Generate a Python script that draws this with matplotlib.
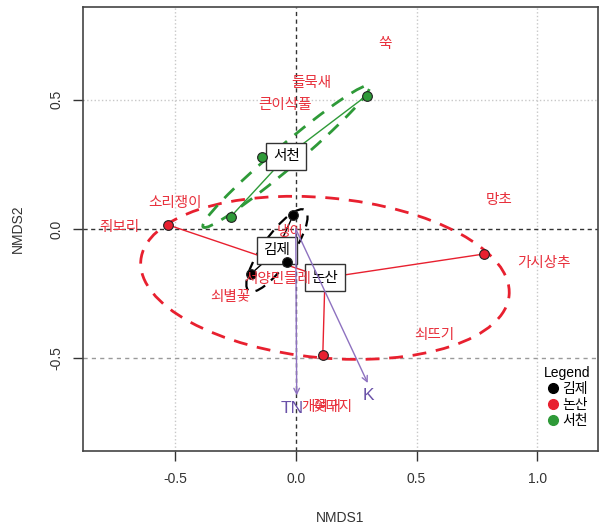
import numpy as np
import matplotlib
matplotlib.use("Agg")
import matplotlib.pyplot as plt
from matplotlib.patches import Ellipse

plt.rcParams["font.family"] = ["Liberation Sans", "Noto Sans CJK KR"]

# NMDS site scores per region
gimje_x = [-0.010, -0.037, -0.186]
gimje_y = [0.054, -0.130, -0.175]
nonsan_x = [-0.530, 0.781, 0.112]
nonsan_y = [0.016, -0.097, -0.488]
seocheon_x = [-0.140, 0.293, -0.269]
seocheon_y = [0.279, 0.516, 0.047]

groups = ["김제", "논산", "서천"]
group_colors = ["black", "#E8202F", "#2E9A38"]

# ordiellipse shape per region: full width, full height, angle (deg)
ell_width = [0.39, 1.53, 0.88]
ell_height = [0.12, 0.62, 0.09]
ell_angle = [53, -5, 38.4]

# species scores
species = ["쑥", "들묵새", "큰이삭풀", "소리쟁이", "쥐보리", "망초", "냉이",
           "가시상추", "서양민들레", "쇠별꽃", "쇠뜨기", "개여뀌", "꽃다지"]
species_x = [0.368, 0.066, -0.045, -0.50, -0.73, 0.84, -0.025,
             1.025, -0.074, -0.27, 0.575, 0.105, 0.150]
species_y = [0.717, 0.566, 0.48, 0.10, 0.008, 0.112, -0.012,
             -0.133, -0.194, -0.264, -0.41, -0.69, -0.69]

# environmental vectors (envfit)
env_names = ["TN", "K"]
env_x = [0.004, 0.298]
env_y = [-0.645, -0.597]

site_x = [gimje_x, nonsan_x, seocheon_x]
site_y = [gimje_y, nonsan_y, seocheon_y]

fig = plt.figure(figsize=(6.02, 5.28), dpi=100)
ax = fig.add_axes([0.138, 0.146, 0.855, 0.841])
ax.set_xlim(-0.88, 1.25)
ax.set_ylim(-0.86, 0.86)

# background grid and zero reference lines
for gx in [-0.5, 0.5, 1.0]:
    ax.axvline(gx, color="#C8C8C8", lw=1, ls=":", zorder=0)
ax.axhline(0.5, color="#C8C8C8", lw=1, ls=":", zorder=0)
ax.axhline(-0.5, color="#9A9A9A", lw=1, ls=(0, (3, 3)), zorder=0)
ax.axhline(0, color="#333333", lw=1, ls=(0, (3, 2.5)), zorder=1)
ax.axvline(0, color="#333333", lw=1, ls=(0, (3, 2.5)), zorder=1)

ell_lw = [1.6, 2, 2]
for g, col, xs, ys, w, h, a, lw in zip(groups, group_colors, site_x, site_y,
                                       ell_width, ell_height, ell_angle,
                                       ell_lw):
    cx, cy = np.mean(xs), np.mean(ys)
    ax.add_patch(Ellipse((cx, cy), w, h, angle=a, fill=False, ec=col,
                         lw=lw, ls=(0, (5, 3.5)), zorder=2))
    for px, py in zip(xs, ys):
        ax.plot([cx, px], [cy, py], color=col, lw=1, zorder=3)
    ax.text(cx, cy, g, ha="center", va="center", fontsize=10.5, zorder=4,
            bbox=dict(boxstyle="square,pad=0.45", fc="white", ec="#333333",
                      lw=1))
    ax.plot(xs, ys, "o", color=col, mec="#222222", mew=0.8, ms=7,
            zorder=5)

for name, sx, sy in zip(species, species_x, species_y):
    ax.text(sx, sy, name, color="#E8303C", fontsize=10.5, ha="center",
            va="center", zorder=6)

for name, ex, ey in zip(env_names, env_x, env_y):
    ax.annotate("", xy=(ex, ey), xytext=(0, 0), zorder=7,
                arrowprops=dict(arrowstyle="->,head_length=0.4,head_width=0.2",
                                color="#8E72C0", lw=1, shrinkA=0, shrinkB=0))
    ax.text(ex * 1.08 - 0.02, ey - 0.05, name, color="#6A52A8",
            fontsize=12.5, ha="center", va="center", zorder=7)

# legend
handles = [plt.Line2D([], [], marker="o", ls="none", color=c, ms=7)
           for c in group_colors]
leg = ax.legend(handles, groups, title="Legend", loc="lower right",
                bbox_to_anchor=(1.005, 0.03), frameon=False, fontsize=10,
                title_fontsize=10, handlelength=0.8, handletextpad=0.3,
                labelspacing=0.15, borderpad=0.2)

ax.set_xticks([-0.5, 0.0, 0.5, 1.0])
ax.set_xticklabels(["-0.5", "0.0", "0.5", "1.0"])
ax.set_yticks([-0.5, 0.0, 0.5])
ax.set_yticklabels(["-0.5", "0.0", "0.5"], rotation=90, va="center")
ax.tick_params(direction="out", length=7, width=1, labelsize=10,
               colors="#333333", labelcolor="#333333")
ax.tick_params(axis="x", pad=8)
ax.tick_params(axis="y", pad=7)
ax.set_xlabel("NMDS1", fontsize=10, color="#333333", labelpad=18)
ax.set_ylabel("NMDS2", fontsize=10, color="#333333", labelpad=18)
for sp in ax.spines.values():
    sp.set_color("#444444")
    sp.set_linewidth(1.2)

fig.savefig("out.png", dpi=100)
